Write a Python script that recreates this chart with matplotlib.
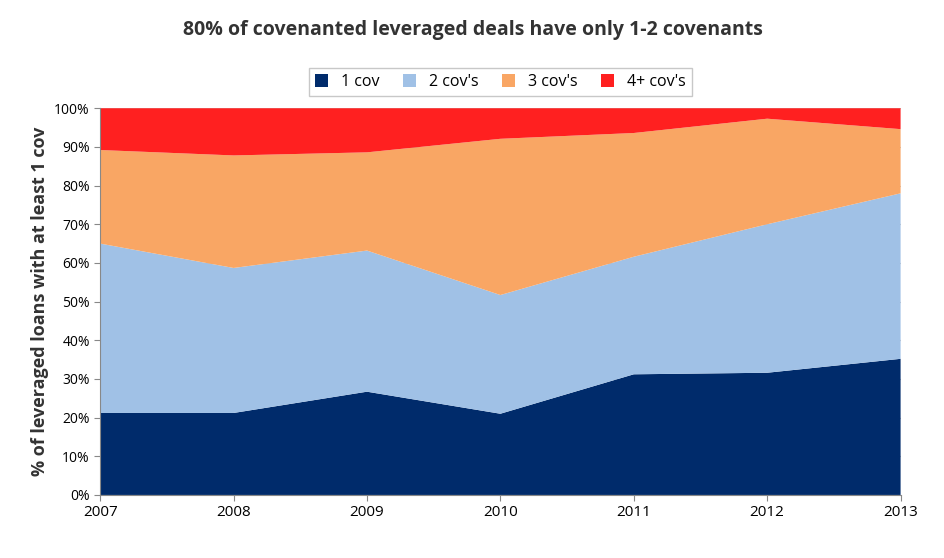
import numpy as np
import matplotlib
matplotlib.use("Agg")
import matplotlib.pyplot as plt
from matplotlib.ticker import PercentFormatter

years = [2007, 2008, 2009, 2010, 2011, 2012, 2013]
one_cov = [21.2, 21.2, 26.7, 21.0, 31.2, 31.6, 35.2]
two_cov = [43.8, 37.5, 36.5, 30.7, 30.4, 38.4, 42.8]
three_cov = [24.2, 29.1, 25.4, 40.4, 32.0, 27.3, 16.6]
four_cov = [10.8, 12.2, 11.4, 7.9, 6.4, 2.7, 5.4]
labels = ["1 cov", "2 cov's", "3 cov's", "4+ cov's"]
colors = ["#002B6B", "#A0C1E6", "#F9A664", "#FF2020"]

plt.rcParams['font.family'] = ['Open Sans', 'DejaVu Sans']

fig = plt.figure(figsize=(9.45, 5.58), dpi=100)
ax = fig.add_axes([0.106, 0.113, 0.847, 0.693])
ax.stackplot(years, one_cov, two_cov, three_cov, four_cov,
             colors=colors, labels=labels, zorder=2)
ax.set_xlim(2007, 2013)
ax.set_ylim(0, 100)
ax.set_yticks(np.arange(0, 101, 10))
ax.yaxis.set_major_formatter(PercentFormatter(decimals=0))
ax.set_xticks(years)
ax.grid(axis='y', color='#C8C8C8', lw=0.8, zorder=0)
for s in ['top', 'right']:
    ax.spines[s].set_visible(False)
for s in ['left', 'bottom']:
    ax.spines[s].set_color('#888888')
ax.tick_params(axis='y', labelsize=10, length=4, color='#888888')
ax.tick_params(axis='x', labelsize=11, length=4, color='#888888')
ax.set_ylabel("% of leveraged loans with at least 1 cov", fontsize=13,
              fontweight='bold', color='#333333')
fig.suptitle("80% of covenanted leveraged deals have only 1-2 covenants",
             fontsize=14, fontweight='bold', color='#333333', y=0.965)
ax.legend(loc='lower center', bbox_to_anchor=(0.5, 1.01), ncol=4,
          fontsize=11.5, frameon=True, fancybox=False, edgecolor='#BBBBBB',
          handlelength=0.8, handleheight=0.8, columnspacing=1.5)
fig.savefig("out.png", dpi=100)
